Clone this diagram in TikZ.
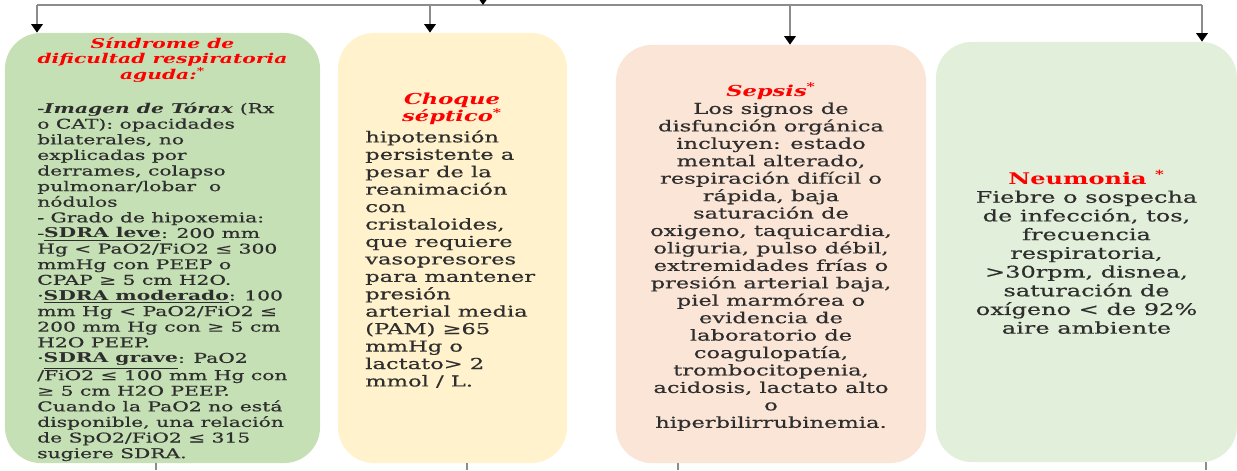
\documentclass[tikz,border=0pt]{standalone}
\usepackage{fontspec}
\setmainfont{DejaVu Serif}[FakeStretch=1.5, UprightFeatures={FakeBold=0.5}]
\usetikzlibrary{arrows.meta,positioning}

\definecolor{sdragreen}{HTML}{C5E0B4}
\definecolor{choqueyellow}{HTML}{FFF2CC}
\definecolor{sepsispeach}{HTML}{FBE5D6}
\definecolor{neumogreen}{HTML}{E2EFDA}
\definecolor{titlered}{HTML}{FF0000}
\definecolor{bodygray}{HTML}{2E2E2E}
\definecolor{linegray}{HTML}{8C8C8C}

\newcommand{\redhead}[1]{{\color{titlered}\bfseries\itshape #1}}
\newcommand{\notemark}{\textsuperscript{*}}

\begin{document}
\begin{tikzpicture}[x=0.025cm, y=-0.025cm,
  box/.style={rounded corners=0.9cm, inner sep=0pt, text=bodygray},
  txt/.style={inner sep=0pt, text=bodygray},
  headtxt/.style={inner sep=0pt, text=titlered, align=center},
  flow/.style={draw=linegray, line width=1.6pt, -{Triangle[black, length=6pt, width=8pt]}},
  wire/.style={draw=linegray, line width=0.8pt}]
  \useasboundingbox (0,0) rectangle (1237,470);

  % Boxes
  \node[box, fill=sdragreen, minimum width=7.875cm, minimum height=10.75cm] (sdra) at (162.5,248) {};
  \node[box, fill=choqueyellow, minimum width=5.725cm, minimum height=10.75cm] (choque) at (452.5,248) {};
  \node[box, fill=sepsispeach, minimum width=7.75cm, minimum height=10.45cm] (sepsis) at (771,254) {};
  \node[box, fill=neumogreen, minimum width=7.525cm, minimum height=10.5cm, align=center,
    font=\fontsize{11.4}{13.3}\selectfont] (neumonia) at (1086.5,252) {%
    {\color{titlered}\bfseries Neumonia \notemark}\\
    Fiebre o sospecha\\
    de infección, tos,\\
    frecuencia\\
    respiratoria,\\
    >30rpm, disnea,\\
    saturación de\\
    oxígeno < de 92\%\\
    aire ambiente};

  % Texts of the first three boxes
  \node[headtxt, font=\fontsize{9.6}{11.1}\selectfont\bfseries\itshape] (sdrahead) at (162.5,60) {%
    Síndrome de\\ dificultad respiratoria\\ aguda:\notemark};
  \node[txt, anchor=north west, align=left, font=\fontsize{9.6}{11.1}\selectfont] (sdrabody) at (37,102) {%
    -\textbf{\textit{Imagen de Tórax}} (Rx\\
    o CAT): opacidades\\
    bilaterales, no\\
    explicadas por\\
    derrames, colapso\\
    pulmonar/lobar~ o\\
    nódulos\\
    - Grado de hipoxemia:\\
    -\underline{\textbf{SDRA leve}}: 200 mm\\
    Hg < PaO2/FiO2 ≤ 300\\
    mmHg con PEEP o\\
    CPAP ≥ 5 cm H2O.\\
    ·\underline{\textbf{SDRA moderado}}: 100\\
    mm Hg < PaO2/FiO2 ≤\\
    200 mm Hg con ≥ 5 cm\\
    H2O PEEP.\\
    ·\underline{\textbf{SDRA grave}}: PaO2\\
    /FiO2 ≤ 100 mm Hg con\\
    ≥ 5 cm H2O PEEP.\\
    Cuando la PaO2 no está\\
    disponible, una relación\\
    de SpO2/FiO2 ≤ 315\\
    sugiere SDRA.};
  \node[headtxt, font=\fontsize{10.7}{12.4}\selectfont\bfseries\itshape] (choquehead) at (452,109) {%
    Choque\\ séptico\notemark};
  \node[txt, anchor=north west, align=left, font=\fontsize{10.7}{12.4}\selectfont] (choquebody) at (365,130) {%
    hipotensión\\
    persistente a\\
    pesar de la\\
    reanimación\\
    con\\
    cristaloides,\\
    que requiere\\
    vasopresores\\
    para mantener\\
    presión\\
    arterial media\\
    (PAM) ≥65\\
    mmHg o\\
    lactato> 2\\
    mmol / L.};
  \node[txt, align=center, font=\fontsize{10.7}{12.4}\selectfont] (sepsistext) at (771,257) {%
    \redhead{Sepsis\notemark}\\
    Los signos de\\
    disfunción orgánica\\
    incluyen: estado\\
    mental alterado,\\
    respiración difícil o\\
    rápida, baja\\
    saturación de\\
    oxigeno, taquicardia,\\
    oliguria, pulso débil,\\
    extremidades frías o\\
    presión arterial baja,\\
    piel marmórea o\\
    evidencia de\\
    laboratorio de\\
    coagulopatía,\\
    trombocitopenia,\\
    acidosis, lactato alto\\
    o\\
    hiperbilirrubinemia.};

  % Connectors from above
  \coordinate (busL) at (37,5);
  \coordinate (busR) at (1202,5);
  \coordinate (feed) at (483,0);
  \coordinate (busB) at (430,5);
  \coordinate (busC) at (790,5);
  \draw[wire, line width=1.6pt] (busL) -- (busR);
  \draw[flow] (feed) -- (feed |- busL);
  \draw[flow] (busL) -- (busL |- sdra.north);
  \draw[flow] (busB) -- (busB |- choque.north);
  \draw[flow] (busC) -- (busC |- sepsis.north);
  \draw[flow] (busR) -- (busR |- neumonia.north);

  % Connectors going below
  \coordinate (outA) at (156,470);
  \coordinate (outB) at (467,470);
  \coordinate (outC) at (678,470);
  \coordinate (outD) at (1206,470);
  \draw[wire] (outA |- sdra.south) -- (outA);
  \draw[wire] (outB |- choque.south) -- (outB);
  \draw[wire] (outC |- sepsis.south) -- (outC);
  \draw[wire] (outD |- neumonia.south) -- (outD);
\end{tikzpicture}
\end{document}
